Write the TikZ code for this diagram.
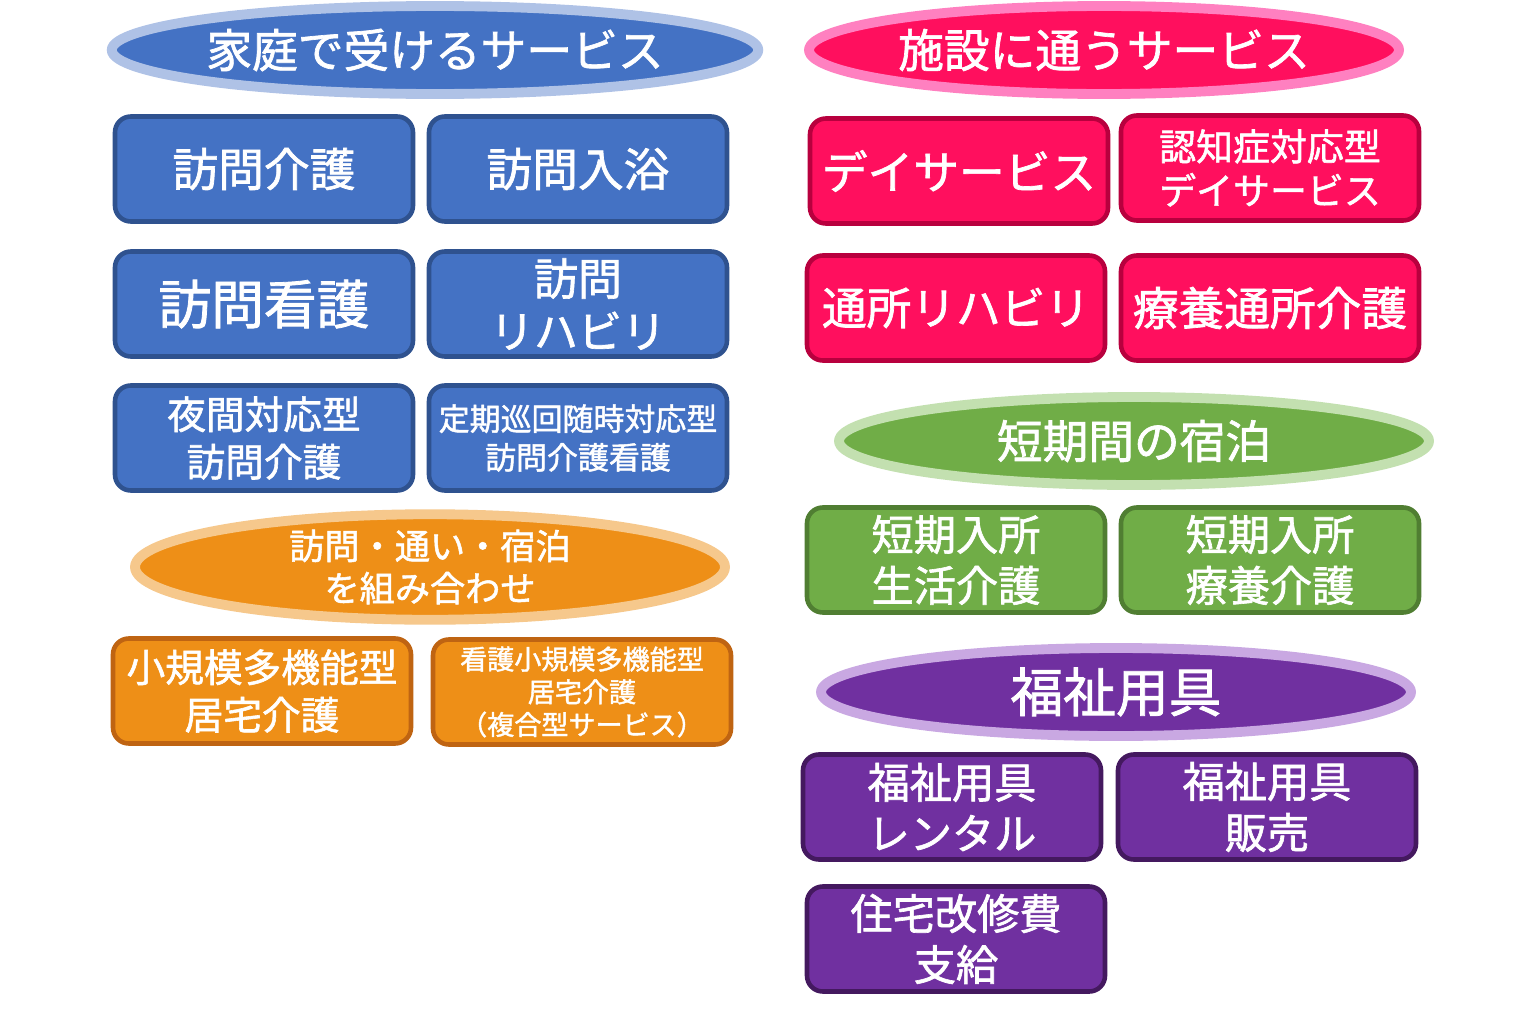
\documentclass[tikz,border=0pt]{standalone}
\usepackage{fontspec}
\newfontfamily\cjk[FakeBold=1.5]{Noto Sans CJK JP}
\usetikzlibrary{shapes.geometric}
\definecolor{hblue}{HTML}{4472C4}\definecolor{hblueD}{HTML}{2F528F}\definecolor{hblueL}{HTML}{AFC2E6}
\definecolor{hpink}{HTML}{FF0F5E}\definecolor{hpinkD}{HTML}{B8003E}\definecolor{hpinkL}{HTML}{FF80C0}
\definecolor{horange}{HTML}{EE8F17}\definecolor{horangeD}{HTML}{BF6412}\definecolor{horangeL}{HTML}{F6C88C}
\definecolor{hgreen}{HTML}{70AD47}\definecolor{hgreenD}{HTML}{507E32}\definecolor{hgreenL}{HTML}{C3E0B0}
\definecolor{hpurple}{HTML}{7030A0}\definecolor{hpurpleD}{HTML}{44195F}\definecolor{hpurpleL}{HTML}{C9A8E2}
\newcommand\fs[1]{\cjk\fontsize{#1pt}{#1pt*1.22}\selectfont}
\tikzset{
  svc/.style 2 args={draw=#2, fill=#1, line width=1.3pt, rounded corners=4.5pt,
    minimum width=298*0.01cm, minimum height=105*0.01cm, text=white, align=center,
    font=\cjk\fontsize{13pt}{15pt}\selectfont, inner sep=0pt},
  head/.style 2 args={ellipse, draw=#2, fill=#1, line width=2.8pt, text=white,
    minimum width=630*0.01cm, minimum height=88*0.01cm, inner sep=0pt,
    font=\cjk\fontsize{13pt}{15pt}\selectfont},
}
\begin{document}
\begin{tikzpicture}[x=0.01cm, y=-0.01cm]
  \useasboundingbox (0,0) rectangle (1536,1015);

  % home services
  \node[head={hblue}{hblueL}] (home) at (435,50) {家庭で受けるサービス};
  \node[svc={hblue}{hblueD}] (hv1) at (264,169) {訪問介護};
  \node[svc={hblue}{hblueD}] (hv2) at (578,169) {訪問入浴};
  \node[svc={hblue}{hblueD}, font=\cjk\fontsize{15pt}{17pt}\selectfont] (hv3) at (264,304) {訪問看護};
  \node[svc={hblue}{hblueD}, font=\cjk\fontsize{12.5pt}{15pt}\selectfont] (hv4) at (578,304) {訪問\\リハビリ};
  \node[svc={hblue}{hblueD}, font=\cjk\fontsize{11pt}{13.5pt}\selectfont] (hv5) at (264,438) {夜間対応型\\訪問介護};
  \node[svc={hblue}{hblueD}, font=\cjk\fontsize{8.8pt}{11pt}\selectfont] (hv6) at (578,438) {定期巡回随時対応型\\訪問介護看護};

  % combined services
  \node[head={horange}{horangeL}, minimum width=590*0.01cm, font=\cjk\fontsize{10pt}{12pt}\selectfont, align=center] (comb) at (430,567) {訪問・通い・宿泊\\を組み合わせ};
  \node[svc={horange}{horangeD}, font=\cjk\fontsize{11pt}{13.5pt}\selectfont] (cb1) at (262,691) {小規模多機能型\\居宅介護};
  \node[svc={horange}{horangeD}, font=\cjk\fontsize{7.7pt}{9.3pt}\selectfont] (cb2) at (582,692) {看護小規模多機能型\\居宅介護\\（複合型サービス）};

  % day services
  \node[head={hpink}{hpinkL}, minimum width=590*0.01cm] (day) at (1104,50) {施設に通うサービス};
  \node[svc={hpink}{hpinkD}] (dy1) at (959,171) {デイサービス};
  \node[svc={hpink}{hpinkD}, font=\cjk\fontsize{10.5pt}{12.5pt}\selectfont] (dy2) at (1270,168) {認知症対応型\\デイサービス};
  \node[svc={hpink}{hpinkD}, font=\cjk\fontsize{12.7pt}{15pt}\selectfont] (dy3) at (956,308) {通所リハビリ};
  \node[svc={hpink}{hpinkD}] (dy4) at (1270,308) {療養通所介護};

  % short stay
  \node[head={hgreen}{hgreenL}, minimum width=590*0.01cm] (stay) at (1134,441) {短期間の宿泊};
  \node[svc={hgreen}{hgreenD}, font=\cjk\fontsize{12pt}{14.5pt}\selectfont] (st1) at (956,560) {短期入所\\生活介護};
  \node[svc={hgreen}{hgreenD}, font=\cjk\fontsize{12pt}{14.5pt}\selectfont] (st2) at (1270,560) {短期入所\\療養介護};

  % welfare equipment
  \node[head={hpurple}{hpurpleL}, minimum width=590*0.01cm, font=\cjk\fontsize{15pt}{17pt}\selectfont] (tool) at (1116,692) {福祉用具};
  \node[svc={hpurple}{hpurpleD}, font=\cjk\fontsize{12pt}{14.5pt}\selectfont] (tl1) at (952,807) {福祉用具\\レンタル};
  \node[svc={hpurple}{hpurpleD}, font=\cjk\fontsize{12pt}{14.5pt}\selectfont] (tl2) at (1267,807) {福祉用具\\販売};
  \node[svc={hpurple}{hpurpleD}, font=\cjk\fontsize{12pt}{14.5pt}\selectfont] (tl3) at (956,939) {住宅改修費\\支給};
\end{tikzpicture}
\end{document}
